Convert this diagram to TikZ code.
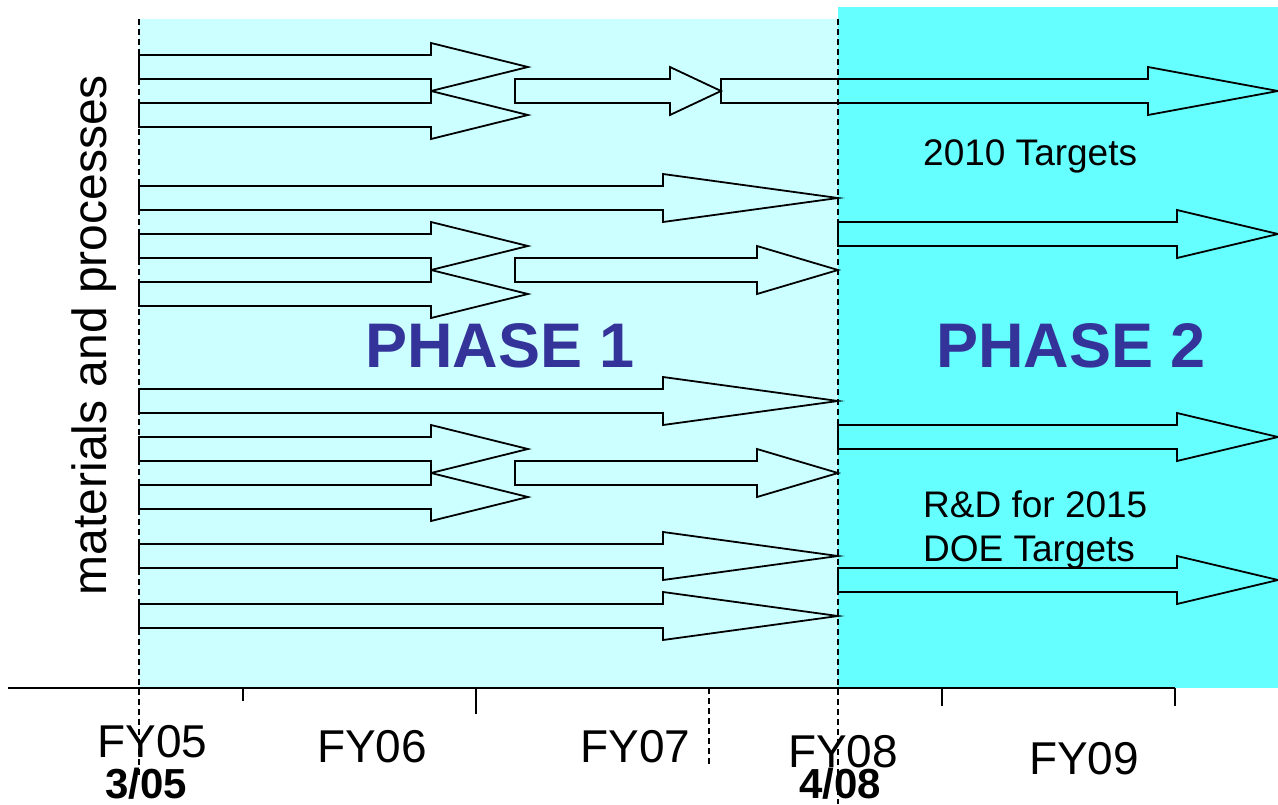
\documentclass[tikz,border=0pt]{standalone}
\usepackage{fontspec}
\setmainfont{Liberation Sans}
\definecolor{lightcy}{HTML}{CCFFFF}
\definecolor{darkcy}{HTML}{66FFFF}
\definecolor{phaseblue}{HTML}{333399}
\newcommand{\blockarr}[4]{%
  \draw[blockarrow] (#1,#4-12) -- (#2,#4-12) -- (#2,#4-24) -- (#3,#4)
    -- (#2,#4+24) -- (#2,#4+12) -- (#1,#4+12) -- cycle;}
\begin{document}
\begin{tikzpicture}[x=1pt,y=-1pt,
  blockarrow/.style={draw=black,line width=1.8pt,line join=miter},
  guide/.style={draw=black,line width=1.4pt,dash pattern=on 6pt off 4pt},
  axisline/.style={draw=black,line width=1.5pt},
  fylabel/.style={font=\fontsize{46}{50}\selectfont,anchor=base,inner sep=0pt},
  datelabel/.style={font=\fontsize{42}{46}\selectfont\bfseries,anchor=base,inner sep=0pt},
  phaselabel/.style={font=\fontsize{63}{70}\selectfont\bfseries,text=phaseblue,anchor=base,inner sep=0pt},
  targetlabel/.style={font=\fontsize{37}{44}\selectfont,anchor=base west,inner sep=0pt}]
\useasboundingbox (0,0) rectangle (1278,804);
\fill[white] (0,0) rectangle (1278,804);
% phase backgrounds
\fill[lightcy] (139,19) rectangle (838,688);
\fill[darkcy] (838,7) rectangle (1278,688);
% block arrows, group 1
\blockarr{139}{431}{528}{67}
\blockarr{139}{431}{528}{115}
\blockarr{515}{670}{721}{91}
\blockarr{721}{1148}{1278}{91}
% single
\blockarr{139}{663}{838}{198}
\blockarr{838}{1177}{1278}{234}
% group 3
\blockarr{139}{431}{528}{246}
\blockarr{139}{431}{528}{294}
\blockarr{515}{757}{838}{270}
% single
\blockarr{139}{663}{838}{401}
\blockarr{838}{1177}{1278}{437}
% group 5
\blockarr{139}{431}{528}{449}
\blockarr{139}{431}{528}{497}
\blockarr{515}{757}{838}{473}
% bottom singles
\blockarr{139}{663}{838}{556}
\blockarr{838}{1177}{1278}{580}
\blockarr{139}{663}{838}{616}
% axis
\draw[axisline] (8,688) -- (1175,688);
\draw[axisline] (243,688) -- (243,701);
\draw[axisline] (476,688) -- (476,714);
\draw[axisline] (942,688) -- (942,706);
\draw[axisline] (1175,688) -- (1175,706);
\draw[guide] (709,688) -- (709,765);
% phase boundaries
\draw[guide] (139,19) -- (139,778);
\draw[guide] (838,19) -- (838,804);
% labels
\node[fylabel] (fy05) at (152.5,757) {FY05};
\node[fylabel] (fy06) at (372,762) {FY06};
\node[fylabel] (fy07) at (635.5,762) {FY07};
\node[fylabel] (fy08) at (843,767) {FY08};
\node[fylabel] (fy09) at (1084,774) {FY09};
\node[datelabel] (d305) at (146,798) {3/05};
\node[datelabel] (d408) at (840,798) {4/08};
\node[phaselabel] (ph1) at (500,367) {PHASE 1};
\node[phaselabel] (ph2) at (1071,367) {PHASE 2};
\node[targetlabel] (t2010) at (923,165) {2010 Targets};
\node[targetlabel] (rd1) at (923,517) {R\&D for 2015};
\node[targetlabel] (rd2) at (923,561) {DOE Targets};
\node[font=\fontsize{48}{50}\selectfont,rotate=90,anchor=base,inner sep=0pt] (mat) at (106,335) {materials and processes};
\end{tikzpicture}
\end{document}
